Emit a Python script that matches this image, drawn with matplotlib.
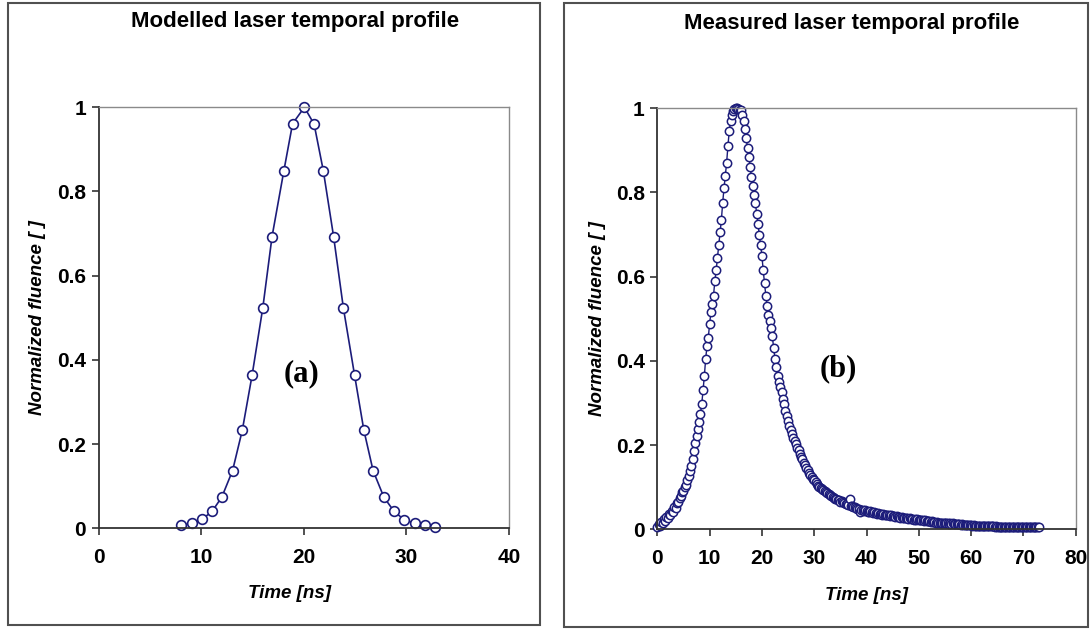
import matplotlib.pyplot as plt
import matplotlib.patches as patches
import numpy as np

plt.rcParams['font.family'] = ['Liberation Sans', 'DejaVu Sans']

# (a) modelled profile
time_a = [8.0, 9.05, 10.05, 11.05, 12.0, 13.05, 14.0, 14.95, 16.0, 16.9, 18.05, 18.9, 20.05,
          21.0, 21.9, 22.9, 23.85, 24.95, 25.85, 26.75, 27.8, 28.8, 29.8, 30.8, 31.8, 32.8]
fluence_a = [0.007, 0.012, 0.021, 0.040, 0.074, 0.137, 0.233, 0.363, 0.524, 0.693, 0.849, 0.961, 1.0,
             0.960, 0.849, 0.693, 0.524, 0.363, 0.233, 0.137, 0.074, 0.040, 0.020, 0.012, 0.007, 0.003]

# (b) measured profile, one sample every 0.25 ns from 0 ns
dt_b = 0.25
fluence_b = [
    0.005, 0.012, 0.008, 0.018, 0.015, 0.024, 0.020, 0.030, 0.028,
    0.036, 0.033, 0.044, 0.042, 0.052, 0.050, 0.062, 0.066,
    0.074, 0.078, 0.088, 0.092, 0.100, 0.106, 0.118, 0.126,
    0.138, 0.150, 0.166, 0.186, 0.205, 0.222, 0.238, 0.255,
    0.275, 0.298, 0.330, 0.365, 0.405, 0.435, 0.455, 0.488,
    0.515, 0.535, 0.555, 0.590, 0.615, 0.645, 0.675, 0.705,
    0.735, 0.775, 0.810, 0.840, 0.870, 0.910, 0.945, 0.970,
    0.985, 0.993, 0.998, 1.000, 1.000, 0.998, 0.997, 0.996,
    0.985, 0.970, 0.952, 0.930, 0.905, 0.885, 0.860, 0.837,
    0.815, 0.795, 0.775, 0.750, 0.725, 0.700, 0.675, 0.650,
    0.615, 0.585, 0.555, 0.530, 0.510, 0.495, 0.478, 0.458,
    0.430, 0.405, 0.385, 0.365, 0.350, 0.338, 0.325, 0.310,
    0.298, 0.282, 0.268, 0.258, 0.246, 0.235, 0.226, 0.218,
    0.210, 0.202, 0.194, 0.188, 0.180, 0.172, 0.166, 0.158,
    0.152, 0.145, 0.140, 0.134, 0.130, 0.124, 0.120, 0.116,
    0.112, 0.108, 0.104, 0.101, 0.098, 0.095, 0.094, 0.090,
    0.088, 0.086, 0.083, 0.081, 0.079, 0.077, 0.075, 0.073,
    0.072, 0.070, 0.069, 0.066, 0.068, 0.064, 0.063, 0.061,
    0.060, 0.058, 0.073, 0.056, 0.055, 0.053, 0.052, 0.050,
    0.049, 0.048, 0.040, 0.047, 0.046, 0.044, 0.045, 0.043,
    0.042, 0.041, 0.043, 0.040, 0.039, 0.041, 0.038, 0.037,
    0.038, 0.036, 0.037, 0.035, 0.036, 0.034, 0.035, 0.033,
    0.034, 0.032, 0.033, 0.031, 0.032, 0.030, 0.031, 0.029,
    0.030, 0.028, 0.029, 0.027, 0.028, 0.026, 0.027, 0.025,
    0.026, 0.024, 0.025, 0.023, 0.024, 0.023, 0.024, 0.022,
    0.023, 0.021, 0.022, 0.020, 0.021, 0.020, 0.019, 0.020,
    0.018, 0.019, 0.017, 0.018, 0.016, 0.017, 0.016, 0.015,
    0.016, 0.015, 0.016, 0.014, 0.015, 0.014, 0.013, 0.014,
    0.013, 0.014, 0.012, 0.013, 0.012, 0.013, 0.012, 0.011,
    0.012, 0.011, 0.010, 0.011, 0.010, 0.011, 0.010, 0.010,
    0.009, 0.010, 0.009, 0.009, 0.008, 0.009, 0.008, 0.008,
    0.008, 0.008, 0.007, 0.008, 0.007, 0.007, 0.007, 0.007,
    0.007, 0.006, 0.007, 0.006, 0.006, 0.006, 0.006, 0.006,
    0.006, 0.006, 0.005, 0.006, 0.005, 0.005, 0.005, 0.005,
    0.005, 0.005, 0.005, 0.005, 0.005, 0.005, 0.005, 0.005,
    0.005, 0.005, 0.005, 0.005, 0.005, 0.005, 0.005, 0.005,
    0.005, 0.005, 0.005, 0.005,
]
time_b = np.arange(len(fluence_b)) * dt_b

navy = '#1c1c7a'
W, H = 1091, 630
fig = plt.figure(figsize=(W / 100, H / 100), dpi=100)

# outer frames around each chart
for x0, x1, y0, y1 in [(8, 540, 3, 625), (564, 1088, 3, 627)]:
    fig.patches.append(patches.Rectangle((x0 / W, 1 - y1 / H), (x1 - x0) / W, (y1 - y0) / H,
                                         transform=fig.transFigure, fill=False,
                                         edgecolor='#505050', linewidth=1.5))


def style(ax, xmax, xlab_pos, ylab_pos):
    ax.set_ylim(0, 1)
    ax.set_xlim(0, xmax)
    ax.set_xticks(np.arange(0, xmax + 1, 10))
    ax.set_yticks([0, 0.2, 0.4, 0.6, 0.8, 1])
    ax.set_yticklabels(['0', '0.2', '0.4', '0.6', '0.8', '1'])
    for s in ['left', 'bottom']:
        ax.spines[s].set_color('#333333')
        ax.spines[s].set_linewidth(1.3)
    for s in ['top', 'right']:
        ax.spines[s].set_color('#8a8a8a')
        ax.spines[s].set_linewidth(1.0)
    ax.tick_params(direction='out', length=5, width=1.2, color='#333333', labelsize=15)
    ax.tick_params(axis='x', pad=9)
    ax.tick_params(axis='y', pad=4)
    for lab in ax.get_xticklabels() + ax.get_yticklabels():
        lab.set_fontweight('bold')
    xl = ax.set_xlabel('Time [ns]', fontsize=13.5, fontweight='bold', fontstyle='italic')
    yl = ax.set_ylabel('Normalized fluence [ ]', fontsize=13.5, fontweight='bold',
                       fontstyle='italic')
    xl.set_va('center')
    yl.set_va('center')
    ax.xaxis.set_label_coords(*xlab_pos)
    ax.yaxis.set_label_coords(*ylab_pos)


ax1 = fig.add_axes([98.7 / W, 1 - 528.3 / H, (509 - 98.7) / W, (528.3 - 107.3) / H])
ax1.plot(time_a, fluence_a, color=navy, linewidth=1.2, marker='o', markersize=7,
         markerfacecolor='white', markeredgecolor=navy, markeredgewidth=1.2, clip_on=False)
style(ax1, 40, (0.466, -0.154), (-0.148, 0.5))
ax1.text(19.8, 0.368, '(a)', fontsize=22, fontweight='bold', family='Liberation Serif',
         ha='center', va='center')
fig.text(295 / W, 1 - 21 / H, 'Modelled laser temporal profile', fontsize=16,
         fontweight='bold', ha='center', va='center')

ax2 = fig.add_axes([657.3 / W, 1 - 529.3 / H, (1075.7 - 657.3) / W, (529.3 - 108.3) / H])
ax2.plot(time_b, fluence_b, color=navy, linewidth=1.0, marker='o', markersize=6,
         markerfacecolor='white', markeredgecolor=navy, markeredgewidth=1.1, clip_on=False)
style(ax2, 80, (0.499, -0.158), (-0.144, 0.5))
ax2.text(34.6, 0.382, '(b)', fontsize=22, fontweight='bold', family='Liberation Serif',
         ha='center', va='center')
fig.text(852 / W, 1 - 24 / H, 'Measured laser temporal profile', fontsize=16,
         fontweight='bold', ha='center', va='center')

fig.savefig('out.png', dpi=100)
